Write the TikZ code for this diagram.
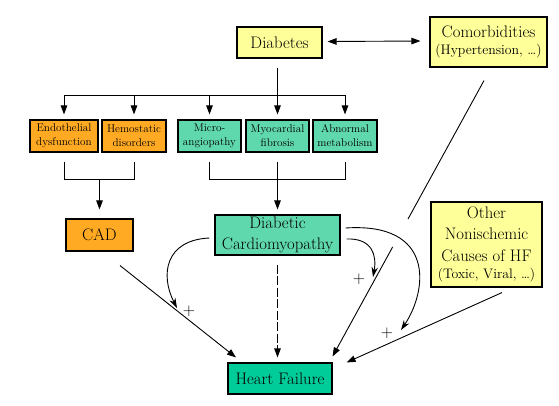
\documentclass[tikz,border=0pt]{standalone}
\usepackage{fontspec}
\usetikzlibrary{arrows.meta,calc}
\definecolor{ylw}{HTML}{FFFF99}
\definecolor{org}{HTML}{FFAA22}
\definecolor{tealA}{HTML}{60D8AE}
\definecolor{tealB}{HTML}{00CC99}
\begin{document}
\begin{tikzpicture}[x=1pt,y=-1pt,
 box/.style={draw=black,line width=1.1pt,inner sep=0pt,align=center,text=black},
 big/.style={font=\fontsize{16.7}{20.5}\selectfont},
 sm/.style={font=\fontsize{11.2}{14}\selectfont},
 ybox/.style={box,fill=ylw},
 obox/.style={box,fill=org},
 tbox/.style={box,fill=tealA},
 hbox/.style={box,fill=tealB},
 conn/.style={line width=0.9pt},
 arr/.style={conn,-{Triangle[length=9pt,width=6.5pt]}},
 sarr/.style={conn,-{Stealth[length=10pt,width=6.5pt]}},
 plus/.style={font=\fontsize{17}{17}\selectfont,inner sep=0pt}]
\useasboundingbox (0,0) rectangle (559,405);
% nodes
\node[ybox,big,minimum width=85pt,minimum height=31pt] (diab) at (279.5,42.5) {Diabetes};
\node[ybox,big,minimum width=117pt,minimum height=50pt] (com) at (488.5,42) {Comorbidities\\[-4pt]{\fontsize{13.8}{16}\selectfont(Hypertension, …)}};
\node[obox,sm,minimum width=68pt,minimum height=32pt] (endo) at (64,136) {Endothelial\\dysfunction};
\node[obox,sm,minimum width=64pt,minimum height=32pt] (hemo) at (134,136) {Hemostatic\\disorders};
\node[tbox,sm,minimum width=63pt,minimum height=32pt] (micro) at (209.5,136) {Micro-\\angiopathy};
\node[tbox,sm,minimum width=63pt,minimum height=32pt] (myo) at (277.5,136) {Myocardial\\fibrosis};
\node[tbox,sm,minimum width=64pt,minimum height=32pt] (abn) at (345,136) {Abnormal\\metabolism};
\node[obox,big,minimum width=67pt,minimum height=32pt] (cad) at (99.5,235) {CAD};
\node[tbox,big,minimum width=125pt,minimum height=40pt] (dc) at (277.5,235) {Diabetic\\Cardiomyopathy};
\node[hbox,big,minimum width=104pt,minimum height=31pt] (hf) at (280,378.5) {Heart Failure};
\node[ybox,big,minimum width=111pt,minimum height=85pt] (on) at (486.5,244.5) {Other\\[1pt]Nonischemic\\[1pt]Causes of HF\\[-3pt]{\fontsize{13.8}{16}\selectfont(Toxic, Viral, …)}};
% tree from Diabetes
\coordinate (bus) at (0,95);
\draw[conn] ($(myo.north |- diab.south)+(0,9)$) -- (myo.north |- bus);
\draw[conn] (endo.north |- bus) -- (abn.north |- bus);
\foreach \n in {endo,hemo,micro,myo,abn}
  \draw[arr] (\n.north |- bus) -- ($(\n.north)+(0,-5)$);
% brackets
\coordinate (lb) at (0,179);
\draw[conn] ($(endo.south)+(0,9)$) -- (endo.south |- lb) -- (hemo.south |- lb) -- ($(hemo.south)+(0,9)$);
\draw[arr] (cad.north |- lb) -- ($(cad.north)+(0,-9)$);
\draw[conn] ($(micro.south)+(0,9)$) -- (micro.south |- lb) -- (abn.south |- lb) -- ($(abn.south)+(0,9)$);
\draw[conn] ($(myo.south)+(0,9)$) -- (myo.south |- lb);
\draw[arr] (dc.north |- lb) -- ($(dc.north)+(0,-5)$);
% diabetes <-> comorbidities
\draw[conn,{Triangle[length=9pt,width=6.5pt]}-{Triangle[length=9pt,width=6.5pt]}] ($(diab.east)+(5,-1)$) -- ($(com.west)+(-9,-1)$);
% to heart failure
\draw[arr] ($(cad.south)+(20.5,14)$) -- ($(hf.north)+(-44,-5)$);
\draw[arr,dash pattern=on 9pt off 2.5pt] ($(dc.south)+(0,9)$) -- ($(dc.south |- hf.north)+(0,-5)$);
\coordinate (cs) at ($(com.south)+(-4.5,13)$);
\coordinate (ce) at ($(hf.north east)+(0,-6)$);
\draw[conn] (cs) -- ($(cs)!0.502!(ce)$);
\draw[arr] ($(cs)!0.603!(ce)$) -- (ce);
\draw[arr] ($(on.south)+(15.5,5)$) -- ($(hf.north east)+(14,0)$);
% curved arrows from DC
\coordinate (t1) at (177,308);
\coordinate (t2) at (373,277);
\coordinate (t3) at (401,330);
\draw[sarr] ($(dc.west)+(-5,3)$) .. controls (165,240) and (160,275) .. (t1);
\draw[sarr] ($(dc.east)+(6,4)$) .. controls (372,238) and (377,255) .. (t2);
\draw[sarr] ($(dc.east)+(5,-7)$) .. controls (435,222) and (428,290) .. (t3);
\node[plus] (p1) at (189,311) {+};
\node[plus] (p2) at (359,279) {+};
\node[plus] (p3) at (387,333) {+};
\end{tikzpicture}
\end{document}
